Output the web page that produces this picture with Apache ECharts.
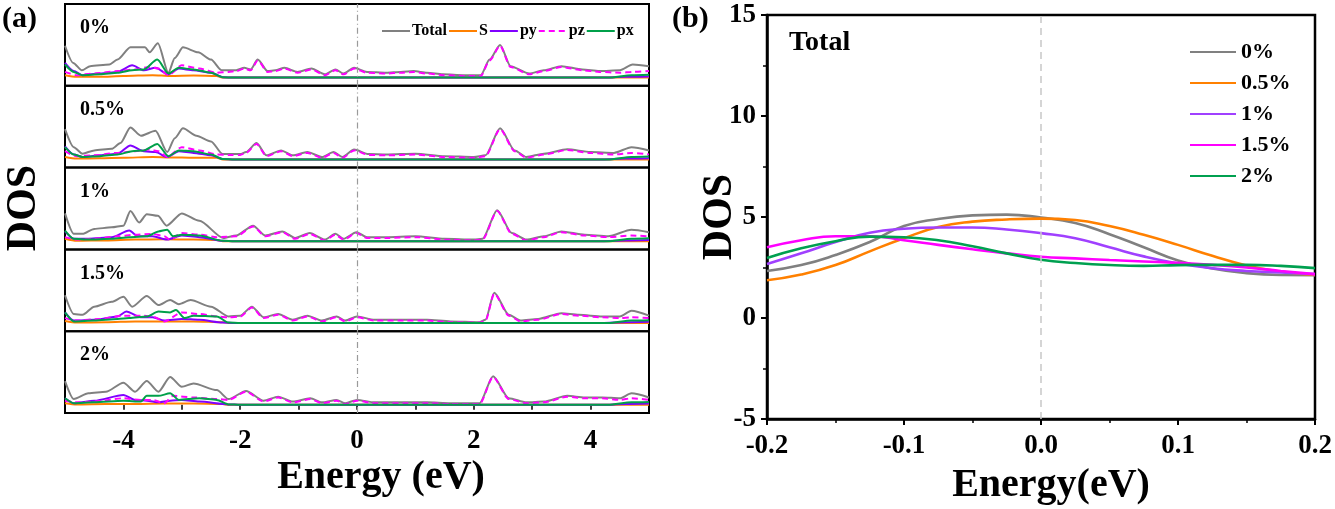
<!DOCTYPE html>
<html>
<head>
<meta charset="utf-8">
<script src="https://cdn.jsdelivr.net/npm/echarts@6/dist/echarts.min.js"></script>
<style>
  html, body { margin: 0; padding: 0; background: #fff; }
  #main { width: 1335px; height: 509px; }
</style>
</head>
<body>
<div id="main"></div>
<script>
// ---- data: (a) PDOS for each strain, [energy, dos] pairs ----
const strainNames = ['0%', '0.5%', '1%', '1.5%', '2%'];
const orbitalNames = ['Total', 'S', 'py', 'pz', 'px'];

const total0 = [[-5,3.9],[-4.86,1.8],[-4.71,0.9],[-4.57,1.4],[-4.24,1.6],[-4.1,2.2],[-3.88,3.7],[-3.63,3.7],[-3.55,3.1],[-3.41,4.2],[-3.23,0.6],[-3.12,2.4],[-2.98,3.7],[-2.72,3.1],[-2.5,2.2],[-2.32,0.9],[-2.07,0.9],[-1.93,1.2],[-1.82,1.0],[-1.7,2.2],[-1.53,0.8],[-1.4,0.9],[-1.24,1.2],[-1.02,0.7],[-0.78,1.1],[-0.55,0.4],[-0.37,1.0],[-0.23,0.5],[-0.05,1.2],[0.17,0.7],[0.5,0.6],[0.75,0.7],[0.97,0.8],[1.2,0.6],[1.47,0.4],[1.83,0.3],[2.12,0.3],[2.27,2.2],[2.45,4.0],[2.63,1.4],[2.95,0.5],[3.2,0.9],[3.5,1.4],[3.86,1.0],[4.15,0.8],[4.5,0.9],[4.72,1.6],[5,1.4]];
const total1 = [[-5,3.7],[-4.85,1.5],[-4.7,0.7],[-4.5,1.1],[-4.2,1.3],[-4.05,2.0],[-3.88,3.9],[-3.7,2.9],[-3.45,3.5],[-3.25,0.9],[-3.12,2.6],[-2.98,3.8],[-2.75,2.9],[-2.5,2.2],[-2.3,0.65],[-2.0,0.65],[-1.9,0.9],[-1.72,2.0],[-1.55,0.5],[-1.3,1.1],[-1.1,0.5],[-0.85,0.9],[-0.6,0.3],[-0.4,0.9],[-0.25,0.3],[-0.05,1.2],[0.2,0.65],[0.5,0.6],[1.0,0.7],[1.5,0.4],[2.0,0.3],[2.2,0.5],[2.45,3.8],[2.7,1.1],[2.9,0.3],[3.2,0.7],[3.6,1.25],[4.0,0.9],[4.4,0.8],[4.7,1.5],[5,1.1]];
const total2 = [[-5,3.4],[-4.85,0.9],[-4.7,0.9],[-4.5,1.5],[-4.2,1.7],[-4.0,1.9],[-3.88,3.7],[-3.73,2.3],[-3.6,3.3],[-3.41,3.1],[-3.26,1.9],[-3.0,3.4],[-2.7,2.5],[-2.29,0.4],[-2.07,0.7],[-1.78,1.9],[-1.57,0.7],[-1.28,1.2],[-1.06,0.4],[-0.81,1.0],[-0.55,0.2],[-0.37,0.9],[-0.23,0.3],[-0.01,1.1],[0.17,0.5],[0.5,0.5],[1.0,0.6],[1.5,0.3],[2.0,0.2],[2.15,0.3],[2.4,3.8],[2.65,1.0],[2.9,0.2],[3.2,0.6],[3.5,1.2],[3.9,0.8],[4.3,0.6],[4.7,1.4],[5,1.1]];
const total3 = [[-5,3.4],[-4.85,1.1],[-4.7,1.0],[-4.5,2.0],[-4.2,2.6],[-4.0,3.2],[-3.85,2.0],[-3.6,3.3],[-3.4,2.2],[-3.2,2.8],[-3.05,2.3],[-2.85,2.8],[-2.5,2.0],[-2.2,0.8],[-2.0,0.9],[-1.8,2.0],[-1.6,0.7],[-1.35,1.1],[-1.1,0.4],[-0.85,0.9],[-0.6,0.3],[-0.35,0.8],[-0.2,0.3],[0.0,0.8],[0.3,0.4],[0.8,0.4],[1.2,0.4],[1.6,0.2],[2.1,0.1],[2.2,0.4],[2.35,3.7],[2.6,1.0],[2.8,0.3],[3.1,0.5],[3.5,1.2],[3.8,1.0],[4.2,0.8],[4.5,0.8],[4.7,1.5],[5,0.9]];
const total4 = [[-5,2.9],[-4.85,0.7],[-4.6,1.4],[-4.3,1.6],[-4.0,2.7],[-3.8,1.6],[-3.6,2.9],[-3.4,1.6],[-3.2,3.4],[-3.0,2.2],[-2.8,2.6],[-2.4,1.8],[-2.2,0.7],[-1.9,1.7],[-1.6,0.5],[-1.35,1.0],[-1.1,0.4],[-0.8,0.8],[-0.6,0.3],[-0.35,0.6],[-0.2,0.2],[0.0,0.6],[0.3,0.3],[0.8,0.3],[1.2,0.3],[1.6,0.2],[2.1,0.2],[2.33,3.5],[2.6,0.8],[2.9,0.3],[3.2,0.4],[3.6,1.1],[3.9,0.9],[4.2,0.9],[4.5,0.8],[4.7,1.4],[5,0.9]];

const s0 = [[-5,0.3],[-4.8,0.1],[-4.4,0.1],[-4.0,0.2],[-3.5,0.3],[-3.2,0.2],[-2.8,0.25],[-2.4,0.2],[-2.3,0],[5,0]];
const s1 = [[-5,0.3],[-4.8,0.1],[-4.4,0.15],[-4.0,0.2],[-3.5,0.3],[-3.2,0.25],[-2.8,0.2],[-2.4,0.2],[-2.3,0],[5,0]];
const s2 = [[-5,0.3],[-4.8,0.05],[-4.3,0.1],[-3.8,0.2],[-3.3,0.25],[-2.8,0.2],[-2.4,0.15],[-2.3,0],[5,0]];
const s3 = [[-5,0.25],[-4.8,0.05],[-4.3,0.1],[-3.8,0.2],[-3.3,0.2],[-2.8,0.2],[-2.3,0.1],[-2.2,0],[5,0]];
const s4 = [[-5,0.2],[-4.8,0.05],[-4.3,0.1],[-3.8,0.1],[-3.3,0.15],[-2.8,0.15],[-2.3,0.1],[-2.2,0],[5,0]];

const py0 = [[-5,1.8],[-4.85,0.8],[-4.7,0.3],[-4.4,0.5],[-4.1,0.7],[-3.85,1.5],[-3.65,0.9],[-3.45,1.2],[-3.23,0.4],[-3.05,1.1],[-2.8,0.9],[-2.5,0.6],[-2.3,0.05],[-2.1,0],[4.2,0],[4.6,0.1],[5,0.15]];
const py1 = [[-5,1.6],[-4.85,0.6],[-4.7,0.3],[-4.4,0.5],[-4.1,0.7],[-3.88,1.7],[-3.65,1.0],[-3.45,0.9],[-3.25,0.3],[-3.05,1.0],[-2.8,0.8],[-2.5,0.5],[-2.3,0.05],[-2.1,0],[4.2,0],[4.6,0.1],[5,0.15]];
const py2 = [[-5,1.2],[-4.85,0.3],[-4.6,0.3],[-4.2,0.5],[-3.9,1.3],[-3.75,0.6],[-3.5,0.6],[-3.25,0.2],[-3.0,0.7],[-2.7,0.5],[-2.3,0.05],[-2.1,0],[4.2,0],[4.6,0.1],[5,0.15]];
const py3 = [[-5,1.3],[-4.85,0.3],[-4.5,0.4],[-4.1,0.8],[-3.95,1.4],[-3.7,0.7],[-3.5,0.7],[-3.3,0.3],[-3.0,0.5],[-2.7,0.4],[-2.3,0.05],[-2.1,0],[4.2,0],[4.6,0.1],[5,0.15]];
const py4 = [[-5,0.8],[-4.85,0.2],[-4.5,0.5],[-4.0,1.2],[-3.8,0.6],[-3.6,0.5],[-3.4,0.3],[-3.2,0.5],[-3.0,0.6],[-2.7,0.4],[-2.2,0.05],[-2.0,0],[4.2,0],[4.6,0.1],[5,0.15]];

const pz0 = [[-5,0.7],[-4.8,0.3],[-4.5,0.5],[-4.1,0.8],[-3.8,1.0],[-3.55,1.3],[-3.4,1.1],[-3.23,0.3],[-3.0,1.5],[-2.7,1.1],[-2.4,0.6],[-2.2,0.7],[-2.07,0.8],[-1.93,1.1],[-1.82,0.9],[-1.7,2.1],[-1.53,0.7],[-1.4,0.8],[-1.24,1.1],[-1.02,0.6],[-0.78,1.0],[-0.55,0.3],[-0.37,0.9],[-0.23,0.4],[-0.05,1.1],[0.17,0.6],[0.5,0.5],[0.75,0.6],[0.97,0.7],[1.2,0.5],[1.47,0.3],[1.83,0.2],[2.12,0.2],[2.27,2.1],[2.45,3.9],[2.63,1.3],[2.95,0.4],[3.2,0.8],[3.5,1.3],[3.86,0.9],[4.15,0.7],[4.5,0.6],[4.72,0.7],[5,0.8]];
const pz1 = [[-5,1.0],[-4.8,0.4],[-4.5,0.5],[-4.1,0.8],[-3.8,1.0],[-3.55,1.2],[-3.4,1.0],[-3.25,0.3],[-3.0,1.5],[-2.7,1.1],[-2.4,0.6],[-2.2,0.55],[-2.0,0.55],[-1.9,0.8],[-1.72,1.9],[-1.55,0.4],[-1.3,1.0],[-1.1,0.4],[-0.85,0.8],[-0.6,0.2],[-0.4,0.8],[-0.25,0.2],[-0.05,1.1],[0.2,0.55],[0.5,0.5],[1.0,0.6],[1.5,0.3],[2.0,0.2],[2.2,0.4],[2.45,3.7],[2.7,1.0],[2.9,0.2],[3.2,0.6],[3.6,1.15],[4.0,0.8],[4.4,0.6],[4.7,0.8],[5,0.6]];
const pz2 = [[-5,0.5],[-4.8,0.2],[-4.5,0.3],[-4.1,0.6],[-3.8,0.8],[-3.5,0.9],[-3.3,0.6],[-3.2,0.2],[-3.0,1.0],[-2.7,0.8],[-2.4,0.5],[-2.07,0.6],[-1.78,1.8],[-1.57,0.6],[-1.28,1.1],[-1.06,0.3],[-0.81,0.9],[-0.55,0.1],[-0.37,0.8],[-0.23,0.2],[-0.01,1.0],[0.17,0.4],[0.5,0.4],[1.0,0.5],[1.5,0.2],[2.0,0.1],[2.15,0.2],[2.4,3.7],[2.65,0.9],[2.9,0.1],[3.2,0.5],[3.5,1.1],[3.9,0.7],[4.3,0.5],[4.7,0.7],[5,0.6]];
const pz3 = [[-5,0.6],[-4.8,0.3],[-4.4,0.5],[-4.0,0.9],[-3.7,0.9],[-3.5,0.8],[-3.3,0.2],[-3.0,1.3],[-2.7,1.1],[-2.4,0.8],[-2.2,0.7],[-2.0,0.8],[-1.8,1.9],[-1.6,0.6],[-1.35,1.0],[-1.1,0.3],[-0.85,0.8],[-0.6,0.2],[-0.35,0.7],[-0.2,0.2],[0.0,0.7],[0.3,0.3],[0.8,0.3],[1.2,0.3],[1.6,0.1],[2.1,0.05],[2.2,0.3],[2.35,3.6],[2.6,0.9],[2.8,0.2],[3.1,0.4],[3.5,1.1],[3.8,0.9],[4.2,0.7],[4.5,0.6],[4.7,0.7],[5,0.6]];
const pz4 = [[-5,0.5],[-4.8,0.3],[-4.5,0.4],[-4.0,0.8],[-3.7,0.6],[-3.5,0.6],[-3.3,0.2],[-3.15,1.1],[-2.8,0.9],[-2.4,0.7],[-2.2,0.6],[-1.9,1.6],[-1.6,0.4],[-1.35,0.9],[-1.1,0.3],[-0.8,0.7],[-0.6,0.2],[-0.35,0.5],[-0.2,0.1],[0.0,0.5],[0.3,0.2],[0.8,0.2],[1.2,0.2],[1.6,0.1],[2.1,0.1],[2.33,3.4],[2.6,0.7],[2.9,0.2],[3.2,0.3],[3.6,1.0],[3.9,0.8],[4.2,0.8],[4.5,0.6],[4.7,0.8],[5,0.6]];

const px0 = [[-5,1.6],[-4.85,0.7],[-4.7,0.3],[-4.4,0.4],[-4.1,0.6],[-3.85,0.9],[-3.65,1.0],[-3.42,2.2],[-3.23,0.5],[-3.05,1.2],[-2.8,1.0],[-2.5,0.6],[-2.3,0.05],[-2.1,0],[4.3,0],[4.7,0.3],[5,0.35]];
const px1 = [[-5,1.5],[-4.85,0.6],[-4.7,0.3],[-4.4,0.4],[-4.1,0.6],[-3.85,1.0],[-3.65,1.1],[-3.42,1.9],[-3.23,0.4],[-3.05,1.1],[-2.8,1.0],[-2.5,0.6],[-2.3,0.05],[-2.1,0],[4.3,0],[4.7,0.3],[5,0.35]];
const px2 = [[-5,1.3],[-4.85,0.3],[-4.6,0.2],[-4.2,0.3],[-3.9,0.5],[-3.6,0.6],[-3.4,1.2],[-3.25,1.4],[-3.15,0.6],[-3.0,0.8],[-2.7,0.7],[-2.3,0.05],[-2.1,0],[4.3,0],[4.7,0.3],[5,0.35]];
const px3 = [[-5,1.3],[-4.85,0.2],[-4.5,0.3],[-4.1,0.5],[-3.9,0.6],[-3.6,0.8],[-3.4,1.4],[-3.2,1.3],[-3.1,1.6],[-2.95,0.6],[-2.8,0.9],[-2.4,0.8],[-2.2,0.05],[-2.0,0],[4.3,0],[4.7,0.3],[5,0.35]];
const px4 = [[-5,0.8],[-4.85,0.2],[-4.5,0.3],[-4.0,0.5],[-3.7,0.4],[-3.6,1.1],[-3.4,1.1],[-3.2,1.4],[-3.05,0.6],[-2.7,0.8],[-2.4,0.6],[-2.2,0.05],[-2.0,0],[4.3,0],[4.7,0.3],[5,0.35]];

// ---- data: (b) total DOS near the Fermi level ----
const fineEnergy = [-0.2,-0.175,-0.15,-0.125,-0.1,-0.075,-0.05,-0.025,0,0.025,0.05,0.075,0.1,0.125,0.15,0.175,0.2];
const dos0  = [2.33,2.62,3.12,3.76,4.55,4.9,5.08,5.12,4.97,4.7,4.15,3.5,2.85,2.45,2.22,2.13,2.12];
const dos05 = [1.87,2.15,2.62,3.3,3.95,4.5,4.77,4.88,4.92,4.85,4.55,4.12,3.62,3.08,2.6,2.3,2.13];
const dos1  = [2.67,3.2,3.76,4.22,4.42,4.48,4.48,4.38,4.2,3.95,3.5,3.05,2.7,2.46,2.33,2.25,2.17];
const dos15 = [3.5,3.85,4.05,4.05,3.85,3.62,3.4,3.2,3.03,2.95,2.87,2.8,2.73,2.63,2.5,2.33,2.17];
const dos2  = [2.97,3.45,3.8,4.03,4.0,3.85,3.55,3.2,2.88,2.72,2.62,2.58,2.62,2.63,2.63,2.58,2.47];

// ---- styling ----
const FONT = '"Liberation Serif", "Times New Roman", serif';
const orbitalColors = ['#808080', '#ff8000', '#8000ff', '#ff00ff', '#00a04a'];
const strainColors = ['#808080', '#ff8000', '#a040ff', '#ff00ff', '#00a050'];

const panels = [
    [total0, s0, py0, pz0, px0],
    [total1, s1, py1, pz1, px1],
    [total2, s2, py2, pz2, px2],
    [total3, s3, py3, pz3, px3],
    [total4, s4, py4, pz4, px4]
];
const rightDos = [dos0, dos05, dos1, dos15, dos2];

const panelTop = [4, 85.8, 167.6, 249.4, 331.2];
const panelH = 81.8;

const Chart = echarts.init(document.getElementById('main'), null, { renderer: 'canvas' });

var grids = [], xAxes = [], yAxes = [], series = [], graphics = [];

panels.forEach(function (panel, i) {
    var last = (i === panels.length - 1);
    grids.push({
        left: 65, width: 584, top: panelTop[i], height: panelH,
        show: true, borderColor: '#000', borderWidth: 2, backgroundColor: 'transparent'
    });
    xAxes.push({
        gridIndex: i, type: 'value', min: -5, max: 5, interval: 1,
        axisLine: { show: false },
        axisTick: { show: last, inside: false, length: 5, lineStyle: { color: '#000', width: 1.5 } },
        axisLabel: {
            show: last, margin: 15, color: '#000',
            fontFamily: FONT, fontWeight: 'bold', fontSize: 27,
            formatter: function (v) { return (v % 2 === 0) ? String(v) : ''; }
        },
        splitLine: { show: false }
    });
    yAxes.push({ gridIndex: i, type: 'value', min: -1, max: 9, show: false });

    panel.forEach(function (d, k) {
        var s = {
            name: orbitalNames[k], type: 'line', xAxisIndex: i, yAxisIndex: i,
            data: d, symbol: 'none', smooth: 0.25, smoothMonotone: 'x',
            lineStyle: { color: orbitalColors[k], width: 2, type: k === 3 ? [6, 4] : 'solid' },
            itemStyle: { color: orbitalColors[k] }
        };
        if (k === 0) {
            s.markLine = {
                silent: true, symbol: ['none', 'none'], label: { show: false },
                lineStyle: { color: '#9a9a9a', width: 1.2, type: [6, 3, 1, 3] },
                data: [{ xAxis: 0 }]
            };
        }
        series.push(s);
    });

    graphics.push({
        type: 'text', left: 80, top: panelTop[i] + 14,
        style: { text: strainNames[i], fill: '#000', font: 'bold 20px ' + FONT }
    });
});

// right panel (b)
grids.push({
    left: 767, width: 548, top: 15, height: 404,
    show: true, borderColor: '#000', borderWidth: 2.5, backgroundColor: 'transparent'
});
xAxes.push({
    gridIndex: 5, type: 'value', min: -0.2, max: 0.2, interval: 0.1,
    axisLine: { onZero: false, lineStyle: { color: '#000', width: 2.5 } },
    axisTick: { inside: false, length: 6, lineStyle: { color: '#000', width: 2 } },
    minorTick: { show: true, splitNumber: 2, length: 4, lineStyle: { color: '#000', width: 1.5 } },
    axisLabel: {
        margin: 14, color: '#000', fontFamily: FONT, fontWeight: 'bold', fontSize: 27,
        formatter: function (v) { return v.toFixed(1); }
    },
    splitLine: { show: false }
});
yAxes.push({
    gridIndex: 5, type: 'value', min: -5, max: 15, interval: 5,
    axisLine: { onZero: false, lineStyle: { color: '#000', width: 2.5 } },
    axisTick: { inside: false, length: 6, lineStyle: { color: '#000', width: 2 } },
    minorTick: { show: true, splitNumber: 2, length: 4, lineStyle: { color: '#000', width: 1.5 } },
    axisLabel: { margin: 11, color: '#000', fontFamily: FONT, fontWeight: 'bold', fontSize: 27 },
    splitLine: { show: false }
});
rightDos.forEach(function (vals, k) {
    var s = {
        name: strainNames[k], type: 'line', xAxisIndex: 5, yAxisIndex: 5,
        data: fineEnergy.map(function (e, j) { return [e, vals[j]]; }),
        symbol: 'none', smooth: true,
        lineStyle: { color: strainColors[k], width: 2.6 },
        itemStyle: { color: strainColors[k] }
    };
    if (k === 0) {
        s.markLine = {
            silent: true, symbol: ['none', 'none'], label: { show: false },
            lineStyle: { color: '#c8c8c8', width: 1.5, type: [7, 5] },
            data: [{ xAxis: 0 }]
        };
    }
    series.push(s);
});

// titles and axis names
graphics.push(
    { type: 'text', left: 2, top: 4, style: { text: '(a)', fill: '#000', font: 'bold 30px ' + FONT } },
    { type: 'text', left: 672, top: 4, style: { text: '(b)', fill: '#000', font: 'bold 30px ' + FONT } },
    { type: 'text', left: 789, top: 29, style: { text: 'Total', fill: '#000', font: 'bold 28px ' + FONT } },
    { type: 'text', x: 24, y: 208, rotation: Math.PI / 2,
      style: { text: 'DOS', fill: '#000', font: 'bold 42px ' + FONT, textAlign: 'center', textVerticalAlign: 'middle', align: 'center', verticalAlign: 'middle' } },
    { type: 'text', x: 720, y: 217, rotation: Math.PI / 2,
      style: { text: 'DOS', fill: '#000', font: 'bold 42px ' + FONT, textAlign: 'center', textVerticalAlign: 'middle', align: 'center', verticalAlign: 'middle' } },
    { type: 'text', x: 381, y: 478,
      style: { text: 'Energy (eV)', fill: '#000', font: 'bold 40px ' + FONT, textAlign: 'center', textVerticalAlign: 'middle', align: 'center', verticalAlign: 'middle' } },
    { type: 'text', x: 1051, y: 486,
      style: { text: 'Energy(eV)', fill: '#000', font: 'bold 40px ' + FONT, textAlign: 'center', textVerticalAlign: 'middle', align: 'center', verticalAlign: 'middle' } }
);

var option = {
    animation: false,
    backgroundColor: '#fff',
    legend: [{
        data: orbitalNames, left: 376, top: 18,
        itemWidth: 28, itemHeight: 12, itemGap: 1,
        itemStyle: { opacity: 0 },
        textStyle: { color: '#000', fontFamily: FONT, fontWeight: 'bold', fontSize: 16, padding: [0, 0, 0, -3] }
    }, {
        data: strainNames, orient: 'vertical', left: 1184, top: 36,
        itemWidth: 46, itemHeight: 14, itemGap: 9,
        itemStyle: { opacity: 0 },
        textStyle: { color: '#000', fontFamily: FONT, fontWeight: 'bold', fontSize: 22, lineHeight: 22 }
    }],
    grid: grids,
    xAxis: xAxes,
    yAxis: yAxes,
    series: series,
    graphic: graphics
};

Chart.setOption(option, true);
</script>
</body>
</html>
